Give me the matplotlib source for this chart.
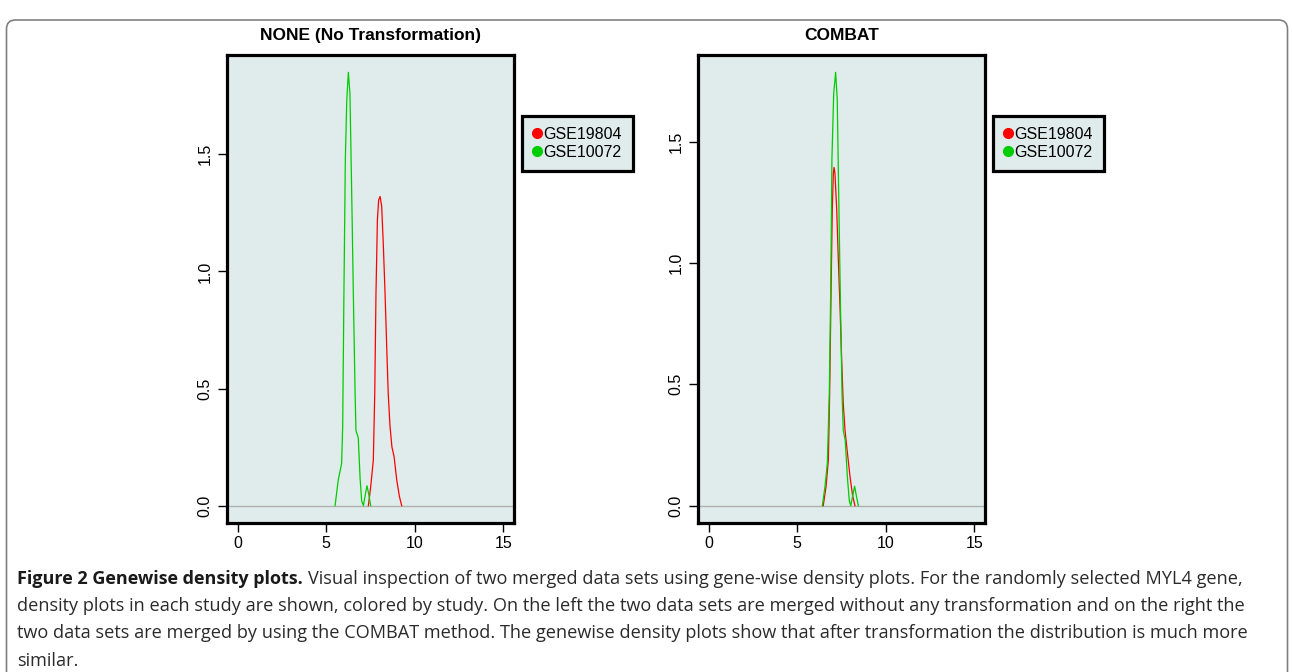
import matplotlib
matplotlib.use("Agg")
import matplotlib.pyplot as plt
from matplotlib.lines import Line2D
from matplotlib.patches import FancyBboxPatch
from matplotlib.transforms import IdentityTransform

# ---------------- data ----------------
panel_titles = ["NONE (No Transformation)", "COMBAT"]
series_names = ["GSE19804", "GSE10072"]
series_colors = ["#ff0000", "#00cd00"]

# NONE panel
none_gse19804_x = [7.38, 7.51, 7.66, 7.74, 7.81, 7.89, 7.96, 8.04, 8.13, 8.22, 8.32, 8.41,
                   8.50, 8.60, 8.71, 8.83, 8.98, 9.13, 9.26]
none_gse19804_y = [0.00, 0.08, 0.195, 0.48, 0.91, 1.22, 1.305, 1.32, 1.28, 1.12, 0.91, 0.69,
                   0.48, 0.34, 0.25, 0.21, 0.11, 0.04, 0.00]
none_gse10072_x = [5.50, 5.68, 5.87, 5.93, 6.00, 6.08, 6.16, 6.25, 6.34, 6.44, 6.53, 6.63,
                   6.68, 6.81, 6.91, 7.00, 7.10, 7.19, 7.30, 7.40, 7.51]
none_gse10072_y = [0.00, 0.11, 0.18, 0.34, 0.91, 1.48, 1.73, 1.85, 1.76, 1.33, 0.91, 0.48,
                   0.32, 0.29, 0.12, 0.02, 0.00, 0.04, 0.085, 0.05, 0.00]

# COMBAT panel
combat_gse19804_x = [6.47, 6.63, 6.76, 6.83, 6.91, 6.98, 7.04, 7.08, 7.13, 7.23, 7.32, 7.42,
                     7.51, 7.60, 7.70, 7.83, 7.98, 8.13, 8.26]
combat_gse19804_y = [0.00, 0.08, 0.19, 0.46, 0.88, 1.22, 1.37, 1.394, 1.37, 1.22, 1.015, 0.81,
                     0.60, 0.42, 0.31, 0.22, 0.12, 0.04, 0.00]
combat_gse10072_x = [6.42, 6.57, 6.70, 6.81, 6.89, 6.96, 7.06, 7.17, 7.26, 7.34, 7.43, 7.53,
                     7.60, 7.71, 7.83, 7.94, 8.02, 8.13, 8.24, 8.34, 8.45]
combat_gse10072_y = [0.00, 0.08, 0.175, 0.46, 0.88, 1.43, 1.70, 1.786, 1.675, 1.29, 0.88, 0.46,
                     0.31, 0.27, 0.12, 0.02, 0.00, 0.04, 0.08, 0.04, 0.00]

x_range = (0, 15)
x_ticks = [0, 5, 10, 15]
y_ticks = [0.0, 0.5, 1.0, 1.5]
y_tick_labels = ["0.0", "0.5", "1.0", "1.5"]

caption_bold = "Figure 2 Genewise density plots."
caption_line1 = ("Visual inspection of two merged data sets using gene-wise density plots. "
                 "For the randomly selected MYL4 gene,")
caption_lines = [
    "density plots in each study are shown, colored by study. On the left the two data sets "
    "are merged without any transformation and on the right the",
    "two data sets are merged by using the COMBAT method. The genewise density plots show "
    "that after transformation the distribution is much more",
    "similar.",
]

panels = [
    [(none_gse19804_x, none_gse19804_y), (none_gse10072_x, none_gse10072_y)],
    [(combat_gse19804_x, combat_gse19804_y), (combat_gse10072_x, combat_gse10072_y)],
]

# ---------------- figure ----------------
W, H, DPI = 1292, 672, 100
plt.rcParams["font.family"] = ["Liberation Sans", "DejaVu Sans"]
fig = plt.figure(figsize=(W / DPI, H / DPI), dpi=DPI)
fig.patch.set_facecolor("white")

# outer rounded frame (open at bottom)
frame = FancyBboxPatch((6.5, -30), 1281, 692 - 10, boxstyle="round,pad=0,rounding_size=9",
                       transform=IdentityTransform(), facecolor="none",
                       edgecolor="#808080", linewidth=1.2, zorder=0)
fig.patches.append(frame)

bg = "#dfeceb"
axes_px = [(227, 55, 514, 523), (698, 55, 985, 523)]
legend_px = [(522, 116), (993, 116)]

for i, (l, t, r, b) in enumerate(axes_px):
    ax = fig.add_axes([l / W, 1 - b / H, (r - l) / W, (b - t) / H])
    ax.set_facecolor(bg)
    ymax = max(max(s[1]) for s in panels[i])
    pad_x = 0.04 * (x_range[1] - x_range[0])
    ax.set_xlim(x_range[0] - pad_x, x_range[1] + pad_x)
    ax.set_ylim(-0.04 * ymax, ymax * 1.04)
    ax.axhline(0, color="#b0b0b0", lw=1.0, zorder=1)
    for (xs, ys), c in zip(panels[i], series_colors):
        ax.plot(xs, ys, color=c, lw=0.9, zorder=2)
    for sp in ax.spines.values():
        sp.set_linewidth(2.3)
        sp.set_color("black")
    ax.set_xticks(x_ticks)
    ax.set_xticklabels([str(v) for v in x_ticks])
    ax.set_yticks(y_ticks)
    ax.set_yticklabels(y_tick_labels, rotation=90, va="center")
    ax.tick_params(axis="both", direction="out", length=6.5, width=1.0, labelsize=11.5,
                   color="black")
    ax.tick_params(axis="x", pad=3)
    ax.tick_params(axis="y", pad=4)
    ax.set_title(panel_titles[i], fontsize=12.5, fontweight="bold", pad=11)

    handles = [Line2D([], [], marker="o", linestyle="none", color=c, markersize=7)
               for c in series_colors]
    lx, ly = legend_px[i]
    leg = ax.legend(handles, series_names, loc="upper left",
                    bbox_to_anchor=(lx / W, 1 - ly / H), bbox_transform=fig.transFigure,
                    borderaxespad=0, frameon=True, fancybox=False, framealpha=1,
                    fontsize=11.5, handlelength=0.6, handletextpad=0.1, labelspacing=0.22,
                    borderpad=0.66)
    fr = leg.get_frame()
    fr.set_facecolor(bg)
    fr.set_edgecolor("black")
    fr.set_linewidth(2.3)

# ---------------- caption ----------------
cap_font = ["Open Sans", "DejaVu Sans"]
cap_size = 13.1
fig.canvas.draw()
rend = fig.canvas.get_renderer()
x0 = 17
baselines = [584, 611, 638, 666]
tb = fig.text(x0 / W, 1 - baselines[0] / H, caption_bold, family=cap_font, fontsize=13,
              fontweight="bold", va="baseline", ha="left", color="#1a1a1a")
bb = tb.get_window_extent(rend)
fig.text((bb.x1 + 5) / W, 1 - baselines[0] / H, caption_line1, family=cap_font,
         fontsize=cap_size, va="baseline", ha="left", color="#2a2a2a")
for line, yb in zip(caption_lines, baselines[1:]):
    fig.text(x0 / W, 1 - yb / H, line, family=cap_font, fontsize=cap_size,
             va="baseline", ha="left", color="#2a2a2a")

fig.savefig("out.png", dpi=DPI, facecolor="white")
